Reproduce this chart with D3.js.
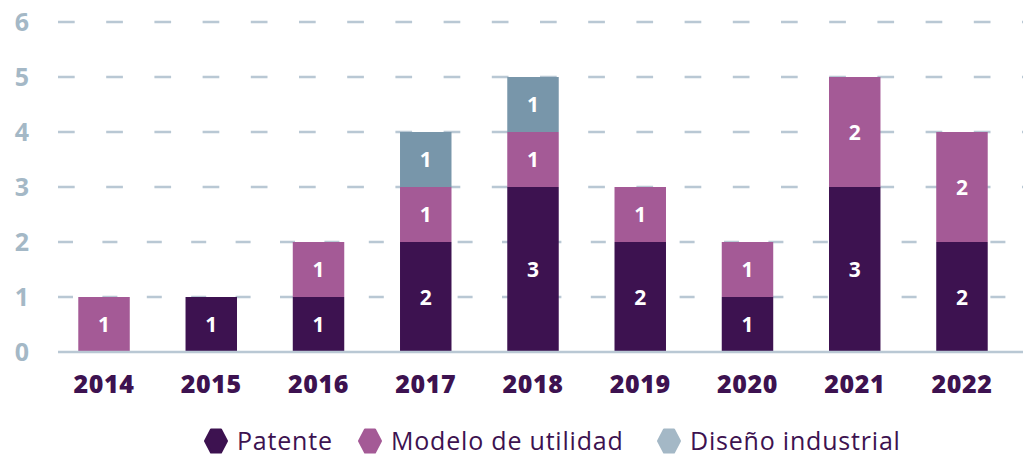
<!DOCTYPE html>
<html>
<head>
<meta charset="utf-8">
<script src="https://cdn.jsdelivr.net/npm/d3@7"></script>
<style>
  body { margin: 0; background: #fff; }
  text { font-family: "Open Sans", sans-serif; }
</style>
</head>
<body>
<div id="chart"></div>
<script>
// data
var years = ["2014", "2015", "2016", "2017", "2018", "2019", "2020", "2021", "2022"];
var patente = [0, 1, 1, 2, 3, 2, 1, 3, 2];
var modelo = [1, 0, 1, 1, 1, 1, 1, 2, 2];
var diseno = [0, 0, 0, 1, 1, 0, 0, 0, 0];
var seriesNames = ["Patente", "Modelo de utilidad", "Diseño industrial"];
var yTicks = [0, 1, 2, 3, 4, 5, 6];

var svgWidth = 1023;
var svgHeight = 457;

var barColors = ["#3d1250", "#a45a96", "#7896aa"];
var legendColors = ["#3d1250", "#a45a96", "#a4b8c6"];
var gridColor = "#b9c8d4";

var svg = d3.select("#chart")
    .append("svg")
    .attr("width", svgWidth)
    .attr("height", svgHeight);

var table = years.map(function(y, i) {
    return { year: y, Patente: patente[i], "Modelo de utilidad": modelo[i], "Diseño industrial": diseno[i] };
});

var stack = d3.stack().keys(seriesNames)(table);

var x = d3.scaleBand()
    .domain(years)
    .range([50.4, 1015.6])
    .paddingInner(0.52)
    .paddingOuter(0.26);

var y = d3.scaleLinear()
    .domain([0, 6])
    .range([352, 22]);

// grid lines
svg.append("g")
    .selectAll("line")
    .data(yTicks.filter(d => d > 0))
    .enter()
    .append("line")
    .attr("x1", 58)
    .attr("x2", svgWidth)
    .attr("y1", d => y(d))
    .attr("y2", d => y(d))
    .attr("stroke", gridColor)
    .attr("stroke-width", 2.5)
    .attr("stroke-dasharray", d => d <= 2 ? "15,29.4" : "16.7,31.5");

// y axis labels
var leftAxis = d3.axisLeft(y).tickValues(yTicks).tickFormat(d3.format("d")).tickSize(0).tickPadding(0);
var yAxis = svg.append("g")
    .attr("transform", "translate(29,0)")
    .call(leftAxis);
yAxis.select(".domain").remove();
yAxis.selectAll("text")
    .attr("font-size", "25px")
    .attr("font-weight", "700")
    .attr("fill", "#a4b8c6")
    .attr("font-family", "Open Sans, sans-serif");

// bars
var layers = svg.append("g")
    .selectAll("g")
    .data(stack)
    .enter()
    .append("g")
    .attr("fill", (d, i) => barColors[i]);

layers.selectAll("rect")
    .data(d => d.filter(s => s[1] > s[0]))
    .enter()
    .append("rect")
    .attr("x", d => x(d.data.year))
    .attr("y", d => y(d[1]))
    .attr("width", x.bandwidth())
    .attr("height", d => y(d[0]) - y(d[1]));

layers.selectAll("text")
    .data(d => d.filter(s => s[1] > s[0]))
    .enter()
    .append("text")
    .attr("x", d => x(d.data.year) + x.bandwidth() / 2)
    .attr("y", d => (y(d[0]) + y(d[1])) / 2)
    .attr("dy", "0.36em")
    .attr("text-anchor", "middle")
    .attr("font-size", "21px")
    .attr("font-weight", "700")
    .attr("fill", "#fff")
    .text(d => d[1] - d[0]);

// baseline
svg.append("line")
    .attr("x1", 58)
    .attr("x2", svgWidth)
    .attr("y1", y(0))
    .attr("y2", y(0))
    .attr("stroke", gridColor)
    .attr("stroke-width", 2.5);

// x axis labels
var bottomAxis = d3.axisBottom(x).tickSize(0).tickPadding(0);
var xAxis = svg.append("g")
    .attr("transform", "translate(0,393)")
    .call(bottomAxis);
xAxis.select(".domain").remove();
xAxis.selectAll("text")
    .attr("dy", 0)
    .attr("font-size", "25px")
    .attr("font-weight", "800")
    .attr("letter-spacing", "0.6px")
    .attr("fill", "#3d1250")
    .attr("font-family", "Open Sans, sans-serif");

// legend
var legendX = [216, 370, 669];
var hex = "M-5,-11.5L5,-11.5L11,0L5,11.5L-5,11.5L-11,0Z";
var legend = svg.append("g")
    .selectAll("g")
    .data(seriesNames)
    .enter()
    .append("g")
    .attr("transform", (d, i) => `translate(${legendX[i]}, 441)`);

legend.append("path")
    .attr("d", hex)
    .attr("fill", (d, i) => legendColors[i])
    .attr("stroke", (d, i) => legendColors[i])
    .attr("stroke-width", 2)
    .attr("stroke-linejoin", "round");

legend.append("text")
    .attr("x", 21)
    .attr("dy", "0.36em")
    .attr("font-size", "25px")
    .attr("letter-spacing", "0.8px")
    .attr("fill", "#3d1250")
    .text(d => d);
</script>
</body>
</html>
